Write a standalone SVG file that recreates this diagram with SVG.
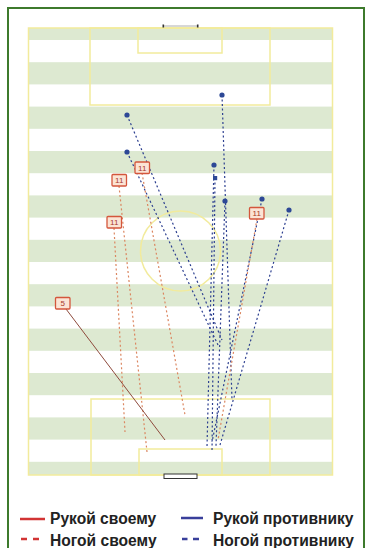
<svg xmlns="http://www.w3.org/2000/svg" width="366" height="548" viewBox="0 0 366 548">
<style>
.stripe{fill:#dde9d1}
.pl{fill:none;stroke:#f2eb9c;stroke-width:1.5}
.bd{stroke:#2c3f90;stroke-width:1.2;fill:none;stroke-dasharray:2 2.5}
.od{stroke:#db8660;stroke-width:1.2;fill:none;stroke-dasharray:2 2.5}
.dot{fill:#2d4896}
.lb rect{fill:#fbe4d5;stroke:#d4563c;stroke-width:1.3}
.lb text{font-family:"Liberation Sans",Arial,sans-serif;font-size:8px;fill:#a8382a;text-anchor:middle}
.lg{font-family:"Liberation Sans",Arial,sans-serif;font-size:15.6px;font-weight:bold;fill:#222}
</style>
<rect x="0" y="0" width="366" height="548" fill="#fff"/>
<rect x="8" y="8" width="356" height="600" fill="#fff" stroke="#3d7a2c" stroke-width="2"/>
<g id="pitch">
<rect class="stripe" x="28" y="28" width="305" height="12"/>
<rect class="stripe" x="28" y="62.2" width="305" height="22.2"/>
<rect class="stripe" x="28" y="106.6" width="305" height="22.2"/>
<rect class="stripe" x="28" y="151" width="305" height="22.2"/>
<rect class="stripe" x="28" y="195.4" width="305" height="22.2"/>
<rect class="stripe" x="28" y="239.8" width="305" height="22.2"/>
<rect class="stripe" x="28" y="284.2" width="305" height="22.2"/>
<rect class="stripe" x="28" y="328.6" width="305" height="22.2"/>
<rect class="stripe" x="28" y="373" width="305" height="22.2"/>
<rect class="stripe" x="28" y="417.4" width="305" height="22.2"/>
<rect class="stripe" x="28" y="461.8" width="305" height="13.2"/>
<rect class="pl" x="28.5" y="28" width="304" height="447"/>
<rect class="pl" x="90" y="28" width="180" height="77"/>
<rect class="pl" x="138" y="28" width="84" height="25"/>
<rect class="pl" x="91" y="399" width="179" height="76"/>
<rect class="pl" x="139" y="449" width="83" height="26"/>
<circle class="pl" cx="180.5" cy="251" r="40"/>
<line x1="163" y1="26" x2="198" y2="26" stroke="#999" stroke-width="0.8"/>
<rect x="162.5" y="24.5" width="1.6" height="3" fill="#333"/>
<rect x="196.9" y="24.5" width="1.6" height="3" fill="#333"/>
<rect x="164" y="474" width="33" height="4.5" fill="#fff" stroke="#333" stroke-width="1"/>
</g>
<g id="connectors">
<line class="bd" x1="222" y1="95" x2="232" y2="400"/>
<line class="bd" x1="127" y1="115" x2="222" y2="340"/>
<line class="bd" x1="127" y1="152" x2="218" y2="345"/>
<line class="bd" x1="214" y1="165" x2="207" y2="447"/>
<line class="bd" x1="215" y1="178" x2="212" y2="452"/>
<line class="bd" x1="225" y1="201" x2="216" y2="446"/>
<line class="bd" x1="262" y1="199" x2="212" y2="442"/>
<line class="bd" x1="289" y1="210" x2="220" y2="445"/>
<line class="od" x1="142" y1="173" x2="185" y2="415"/>
<line class="od" x1="119" y1="186" x2="147" y2="452"/>
<line class="od" x1="114" y1="228" x2="125" y2="432"/>
<line class="od" x1="257" y1="219" x2="218" y2="440"/>
<line x1="66" y1="309" x2="165" y2="440" stroke="#8e4a3c" stroke-width="1"/>
</g>
<g id="b1"><circle class="dot" cx="222" cy="95" r="2.6"/></g>
<g id="b2"><circle class="dot" cx="127" cy="115" r="2.6"/></g>
<g id="b3"><circle class="dot" cx="127" cy="152" r="2.6"/></g>
<g id="b4"><circle class="dot" cx="214" cy="165" r="2.6"/></g>
<g id="b5"><rect class="dot" x="213" y="176" width="4.2" height="4.2"/></g>
<g id="b6"><circle class="dot" cx="225" cy="201" r="2.6"/></g>
<g id="b7"><circle class="dot" cx="262" cy="199" r="2.6"/></g>
<g id="b8"><circle class="dot" cx="289" cy="210" r="2.6"/></g>
<g id="l1" class="lb"><rect x="135" y="162" width="14.5" height="11.5" rx="1"/><text x="142.2" y="170.8">11</text></g>
<g id="l2" class="lb"><rect x="112" y="174.5" width="14.5" height="11.5" rx="1"/><text x="119.2" y="183.3">11</text></g>
<g id="l3" class="lb"><rect x="107" y="216.5" width="14.5" height="11.5" rx="1"/><text x="114.2" y="225.3">11</text></g>
<g id="l4" class="lb"><rect x="249.5" y="207.5" width="14.5" height="11.5" rx="1"/><text x="256.7" y="216.3">11</text></g>
<g id="l5" class="lb"><rect x="55.5" y="297.5" width="14.5" height="11.5" rx="1"/><text x="62.7" y="306.3">5</text></g>
<g id="legend">
<line x1="20" y1="519" x2="45" y2="519" stroke="#d23434" stroke-width="2.5"/>
<text class="lg" x="50" y="524">Рукой своему</text>
<line x1="181" y1="518" x2="203" y2="518" stroke="#393f9b" stroke-width="2.5"/>
<text class="lg" x="213" y="524">Рукой противнику</text>
<line x1="21" y1="539" x2="27" y2="539" stroke="#d23434" stroke-width="2.5"/>
<line x1="33" y1="539" x2="39" y2="539" stroke="#d23434" stroke-width="2.5"/>
<text class="lg" x="50" y="546">Ногой своему</text>
<line x1="182" y1="539" x2="187.5" y2="539" stroke="#393f9b" stroke-width="2.5"/>
<line x1="193" y1="539" x2="199" y2="539" stroke="#393f9b" stroke-width="2.5"/>
<text class="lg" x="213" y="546">Ногой противнику</text>
</g>
</svg>
